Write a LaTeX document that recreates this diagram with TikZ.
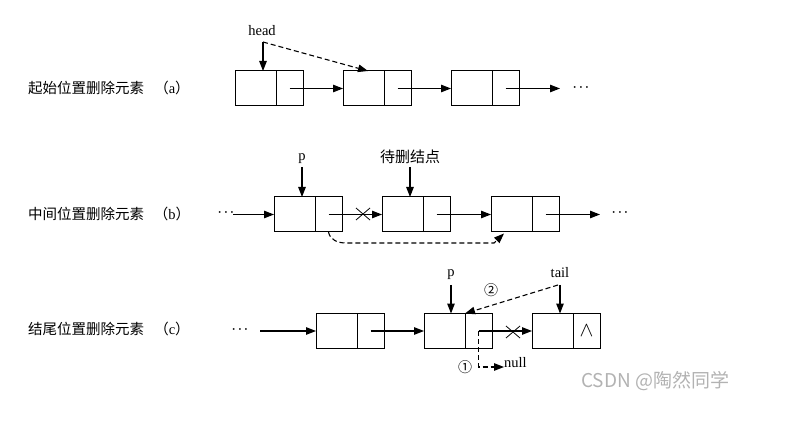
\documentclass[tikz,border=0pt]{standalone}
\usepackage{fontspec}
\setmainfont{Liberation Serif}
\newfontfamily\cjk{Noto Sans CJK SC}
\usetikzlibrary{arrows.meta}
\begin{document}
\begin{tikzpicture}[x=1pt,y=-1pt,
  cell/.style={draw, line width=1pt, minimum height=35pt, inner sep=0pt, outer sep=0pt},
  dcell/.style={cell, minimum width=41pt},
  pcell/.style={cell, minimum width=27pt, anchor=west},
  link/.style={line width=1.1pt, -{Triangle[length=10pt,width=7.5pt]}},
  dlink/.style={link, dash pattern=on 5pt off 3pt},
  lbl/.style={font=\fontsize{14.5}{16}\selectfont, inner sep=0pt},
  cjklbl/.style={font=\cjk\fontsize{14.5}{16}\selectfont, anchor=west, inner sep=0pt},
  dots/.style={font=\fontsize{12}{12}\selectfont\boldmath, inner sep=0pt},
  cross/.style={line width=0.8pt}]
\useasboundingbox (0,0) rectangle (786,427);

% ---------- row (a)
\node[cjklbl] (la) at (28,88) {起始位置删除元素};
\node[lbl] (pa) at (172,88) {{\cjk （}a{\cjk ）}};
\node[dcell] (a1d) at (255.5,88.5) {};
\node[pcell] (a1p) at (a1d.east) {};
\node[dcell] (a2d) at (363.5,88.5) {};
\node[pcell] (a2p) at (a2d.east) {};
\node[dcell] (a3d) at (471.5,88.5) {};
\node[pcell] (a3p) at (a3d.east) {};
\node[dots] (adots) at (581,88) {$\cdots$};
\coordinate (aend) at (560,88.5);
\draw[link] (a1p.center) -- (a2d.west);
\draw[link] (a2p.center) -- (a3d.west);
\draw[link] (a3p.center) -- (aend);
\node[lbl] (head) at (262,31) {head};
\coordinate (hc) at (263,42);
\coordinate (a2t) at (368,71);
\draw[link] (hc) -- (hc |- a1d.north);
\draw[dlink] (hc) -- (a2t);

% ---------- row (b)
\node[cjklbl] (lb) at (28,214) {中间位置删除元素};
\node[lbl] (pb) at (172,214) {{\cjk （}b{\cjk ）}};
\node[dots] (bdots1) at (226,213) {$\cdots$};
\coordinate (bstart) at (233,214.5);
\node[dcell] (b1d) at (294.5,214.5) {};
\node[pcell] (b1p) at (b1d.east) {};
\node[dcell] (b2d) at (402.5,214.5) {};
\node[pcell] (b2p) at (b2d.east) {};
\node[dcell] (b3d) at (511.5,214.5) {};
\node[pcell] (b3p) at (b3d.east) {};
\node[dots] (bdots2) at (620,213) {$\cdots$};
\coordinate (bend) at (600,214.5);
\draw[link] (bstart) -- (b1d.west);
\draw[link] (b1p.center) -- (b2d.west);
\draw[link] (b2p.center) -- (b3d.west);
\draw[link] (b3p.center) -- (bend);
\draw[cross] (356,208) -- (370,220) (356,220) -- (370,208);
\node[lbl] (p1) at (302,159) {p};
\coordinate (p1c) at (302,167);
\draw[link] (p1c) -- (p1c |- b1d.north);
\node[cjklbl, anchor=center, font=\cjk\fontsize{15}{16}\selectfont] (del) at (410,157) {待删结点};
\coordinate (delc) at (410,167);
\draw[link] (delc) -- (delc |- b2d.north);
\coordinate (bk1) at (346,243);
\coordinate (bk2) at (494,243);
\coordinate (bk3) at (504,233.5);
\draw[dlink] (b1p.south) to[out=-80,in=180] (bk1) -- (bk2) -- (bk3);

% ---------- row (c)
\node[cjklbl] (lc) at (28,329) {结尾位置删除元素};
\node[lbl] (pc) at (172,329) {{\cjk （}c{\cjk ）}};
\node[dots] (cdots) at (240,330) {$\cdots$};
\coordinate (cstart) at (260,331);
\node[dcell] (c1d) at (336.5,331) {};
\node[pcell] (c1p) at (c1d.east) {};
\node[dcell] (c2d) at (444.5,331) {};
\node[pcell] (c2p) at (c2d.east) {};
\node[dcell] (c3d) at (552.5,331) {};
\node[pcell] (c3p) at (c3d.east) {};
\node[inner sep=0pt, font=\fontsize{20}{20}\selectfont] (wedge) at (c3p.center) {$\wedge$};
\draw[link] (cstart) -- (c1d.west);
\draw[link] (c1p.center) -- (c2d.west);
\draw[link] (c2p.center) -- (c3d.west);
\draw[cross] (506,326) -- (520,338) (506,338) -- (520,326);
\node[lbl] (p2) at (451,275) {p};
\coordinate (p2c) at (451,285);
\draw[link] (p2c) -- (p2c |- c2d.north);
\node[lbl] (tail) at (560,273) {tail};
\coordinate (tc) at (560,285);
\draw[link] (tc) -- (tc |- c3d.north);
\draw[dlink] (558,285) -- (c2p.north west);
\node[font=\cjk\fontsize{14}{16}\selectfont, inner sep=0pt] (n2) at (491,290) {②};
\coordinate (nk) at (478.5,367);
\node[lbl, anchor=base west] (null) at (504,367) {null};
\draw[dlink] (c2p.center) -- (nk) -- (null.base west);
\node[font=\cjk\fontsize{14}{16}\selectfont, inner sep=0pt] (n1) at (465,367) {①};

% watermark
\node[font=\cjk\fontsize{19}{20}\selectfont, text=black!30, anchor=west, inner sep=0pt] (wm) at (581,381) {CSDN @陶然同学};
\end{tikzpicture}
\end{document}
